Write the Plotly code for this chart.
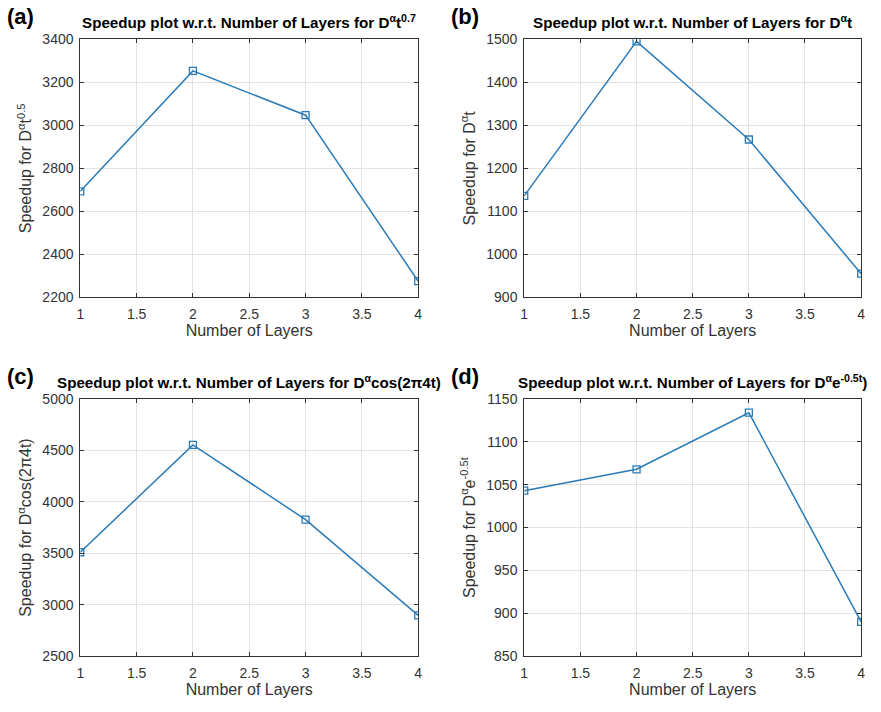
import plotly.graph_objects as go

# Number of layers (shared x values)
layers = [1, 2, 3, 4]

# Speedup per test function
speedup_a = [2693, 3253, 3047, 2275]
speedup_b = [1136, 1495, 1267, 955]
speedup_c = [3510, 4554, 3827, 2896]
speedup_d = [1043, 1068, 1134, 890]

titles = [
    "Speedup plot w.r.t. Number of Layers for D<sup>α</sup>t<sup>0.7</sup>",
    "Speedup plot w.r.t. Number of Layers for D<sup>α</sup>t",
    "Speedup plot w.r.t. Number of Layers for D<sup>α</sup>cos(2π4t)",
    "Speedup plot w.r.t. Number of Layers for D<sup>α</sup>e<sup>-0.5t</sup>)",
]
ylabels = [
    "Speedup for D<sup>α</sup>t<sup>0.5</sup>",
    "Speedup for D<sup>α</sup>t",
    "Speedup for D<sup>α</sup>cos(2π4t)",
    "Speedup for D<sup>α</sup>e<sup>-0.5t</sup>",
]
panel_tags = ["(a)", "(b)", "(c)", "(d)"]
y_ranges = [[2200, 3400], [900, 1500], [2500, 5000], [850, 1150]]
y_dticks = [200, 100, 500, 50]
x_ticks = [1, 1.5, 2, 2.5, 3, 3.5, 4]

W, H = 881, 712
# plot-area boxes in pixels: (left, right, top, bottom)
boxes = [
    (77, 418, 32, 296),
    (525, 865, 32, 296),
    (77, 418, 400, 663),
    (525, 865, 400, 663),
]

series = [speedup_a, speedup_b, speedup_c, speedup_d]
line_color = "#2a7bb8"
font_family = "Liberation Sans, Arial, Helvetica, sans-serif"
tick_color = "#333333"

fig = go.Figure()
layout = dict(
    width=W, height=H,
    margin=dict(l=0, r=0, t=0, b=0),
    paper_bgcolor="white", plot_bgcolor="white",
    showlegend=False,
    font=dict(family=font_family, color=tick_color, size=14),
    annotations=[],
)

for i, (vals, box) in enumerate(zip(series, boxes)):
    l, r, t, b = box
    xd = [l / W, r / W]
    yd = [1 - b / H, 1 - t / H]
    sfx = "" if i == 0 else str(i + 1)
    fig.add_trace(go.Scatter(
        x=layers, y=vals, mode="lines+markers",
        line=dict(color=line_color, width=1.5),
        marker=dict(symbol="square-open", size=7, color=line_color,
                    line=dict(width=1.3, color=line_color)),
        xaxis="x" + sfx, yaxis="y" + sfx,
    ))
    layout["xaxis" + sfx] = dict(
        domain=xd, anchor="y" + sfx, range=[1, 4],
        tickvals=x_ticks, ticktext=[f"{v:g}" for v in x_ticks],
        showgrid=True, gridcolor="#e3e3e3", gridwidth=1,
        ticks="inside", ticklen=4, tickcolor="#333333",
        showline=True, linecolor="#333333", linewidth=1, mirror="ticks",
        zeroline=False, tickfont=dict(size=14, color=tick_color),
        ticklabelstandoff=4,
        title=dict(text="Number of Layers", font=dict(size=16, color=tick_color), standoff=2),
    )
    layout["yaxis" + sfx] = dict(
        domain=yd, anchor="x" + sfx, range=y_ranges[i], dtick=y_dticks[i],
        showgrid=True, gridcolor="#e3e3e3", gridwidth=1,
        ticks="inside", ticklen=4, tickcolor="#333333",
        showline=True, linecolor="#333333", linewidth=1, mirror="ticks",
        zeroline=False, tickfont=dict(size=14, color=tick_color),
        ticklabelstandoff=3,
        title=dict(text=ylabels[i], font=dict(size=16, color=tick_color), standoff=6),
    )
    # panel title
    layout["annotations"].append(dict(
        x=(xd[0] + xd[1]) / 2, y=yd[1], xref="paper", yref="paper",
        xanchor="center", yanchor="bottom", yshift=6, showarrow=False,
        text="<b>" + titles[i] + "</b>",
        font=dict(size=15.2, color="#000000", family=font_family),
    ))
    # panel tag
    layout["annotations"].append(dict(
        x=(l - 76) / W, y=yd[1], xref="paper", yref="paper",
        xanchor="left", yanchor="bottom", yshift=8, showarrow=False,
        text="<b>" + panel_tags[i] + "</b>",
        font=dict(size=22, color="#000000", family=font_family),
    ))

fig.update_layout(**layout)
fig.write_html("out.html")
